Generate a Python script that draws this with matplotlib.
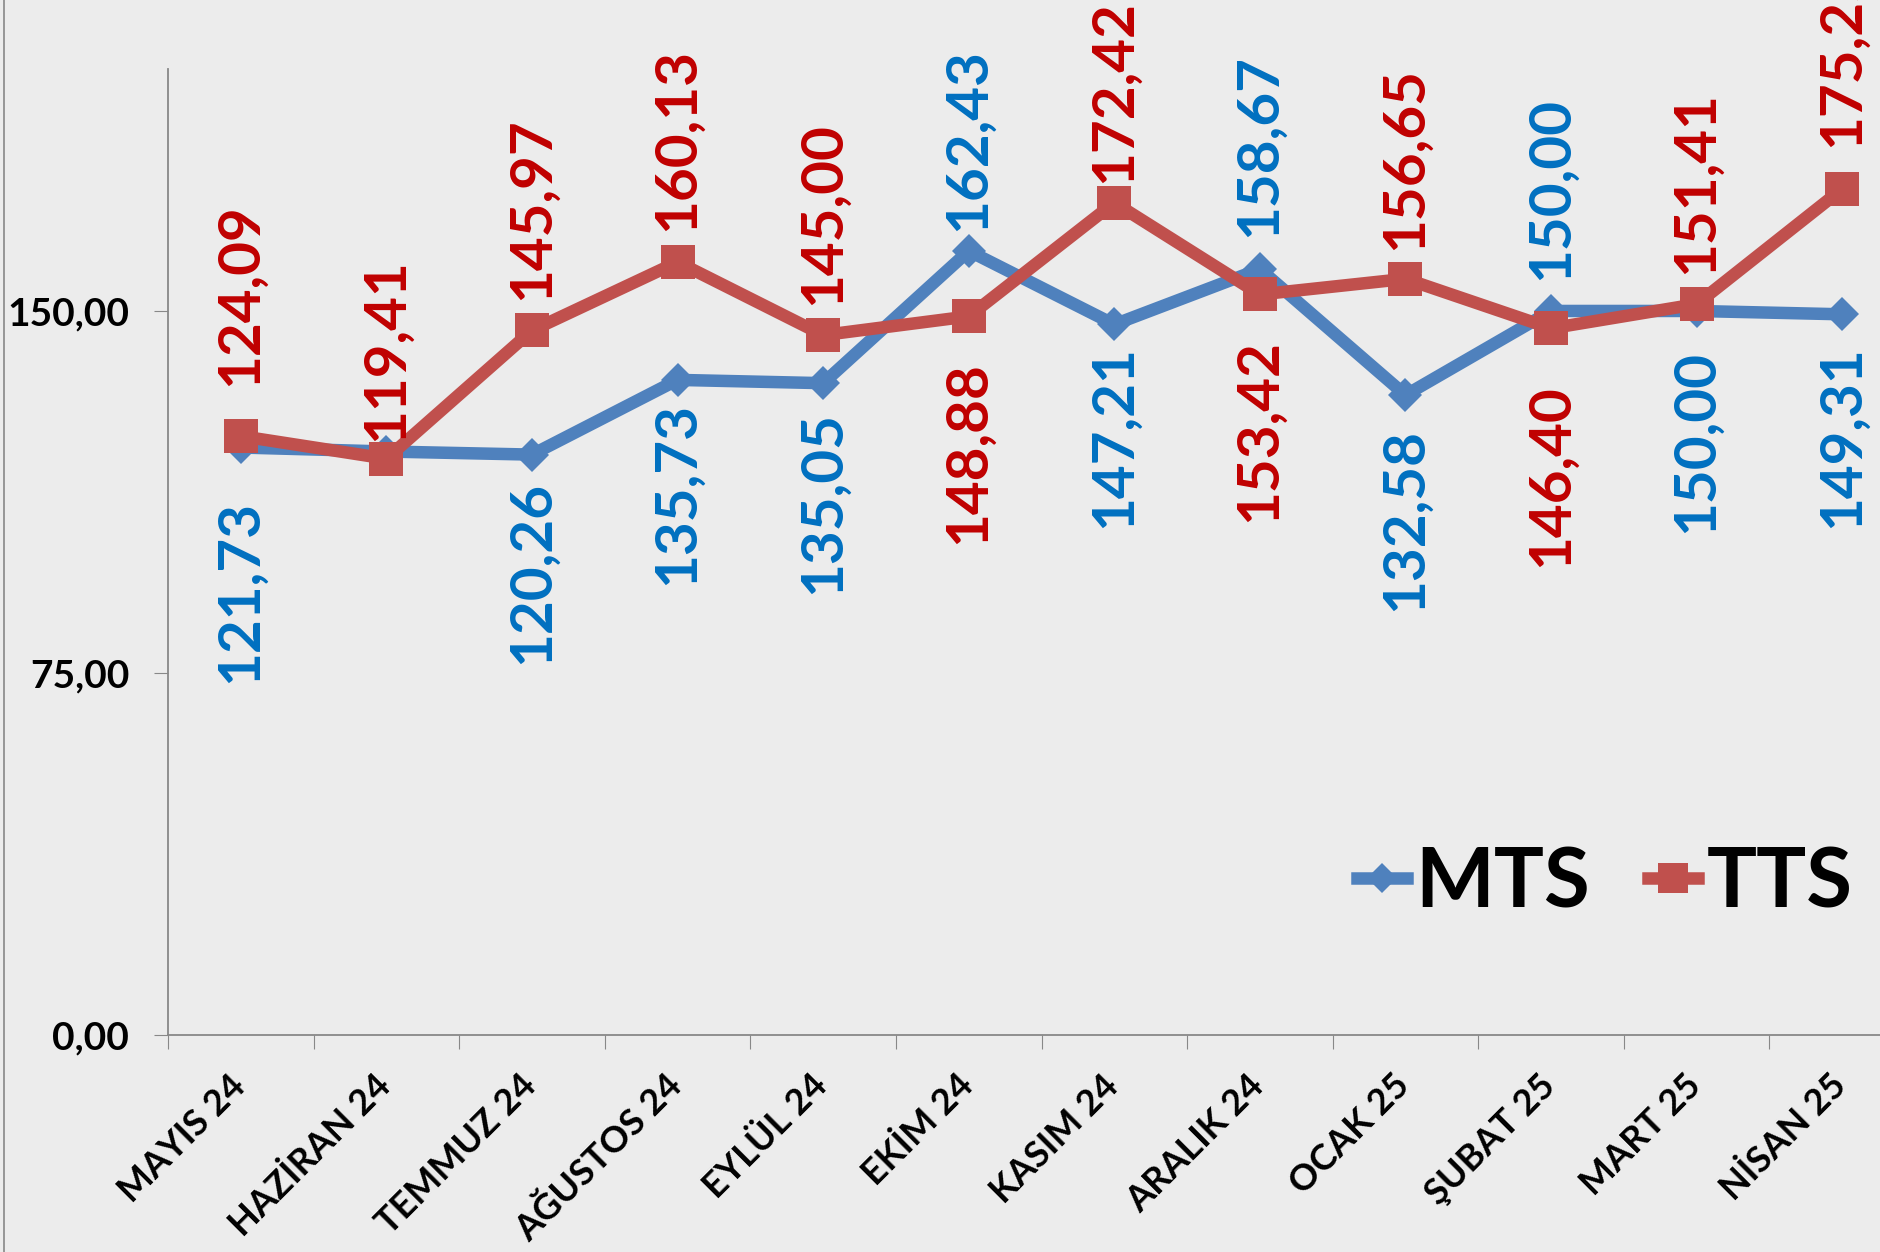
import matplotlib
matplotlib.use("Agg")
import matplotlib.pyplot as plt
import matplotlib.transforms as mtransforms
from matplotlib.lines import Line2D

plt.rcParams['font.family'] = ['Lato', 'DejaVu Sans']
plt.rcParams['font.weight'] = 'bold'

# data
months = ['MAYIS 24', 'HAZİRAN 24', 'TEMMUZ 24', 'AĞUSTOS 24', 'EYLÜL 24', 'EKİM 24',
          'KASIM 24', 'ARALIK 24', 'OCAK 25', 'ŞUBAT 25', 'MART 25', 'NİSAN 25']
mts = [121.73, 120.90, 120.26, 135.73, 135.05, 162.43, 147.21, 158.67, 132.58, 150.00, 150.00, 149.31]
tts = [124.09, 119.41, 145.97, 160.13, 145.00, 148.88, 172.42, 153.42, 156.65, 146.40, 151.41, 175.25]
y_ticks = [0, 75, 150]
y_tick_labels = ['0,00', '75,00', '150,00']

# label placement: signed offset in points (+ above, - below), None = no label
mts_label_off = [-38, None, -19, -16, -20, 14, -15, 23, -24, 22, -28, -22]
tts_label_off = [36, 13, 22, 22, 22, -32, 14, -32, 21, -40, 22, 30]

MTS_LINE = '#4F81BD'
TTS_LINE = '#C0504D'
MTS_TXT = '#0070C0'
TTS_TXT = '#C00000'
BG = '#ECECEC'

fig = plt.figure(figsize=(18.8, 12.52), dpi=100, facecolor=BG)
ax = fig.add_axes([0.0894, 0.173, 0.9292, 0.7715])
ax.set_facecolor(BG)

x = list(range(len(months)))
ax.plot(x, mts, color=MTS_LINE, lw=9, marker='D', ms=17, mew=0, label='MTS', zorder=3,
        solid_joinstyle='miter', clip_on=False)
ax.plot(x, tts, color=TTS_LINE, lw=9, marker='s', ms=24, mew=0, label='TTS', zorder=4,
        solid_joinstyle='miter', clip_on=False)

def add_labels(vals, offs, color):
    for i, (v, off) in enumerate(zip(vals, offs)):
        if off is None:
            continue
        txt = f'{v:.2f}'.replace('.', ',')
        ax.annotate(txt, (i, v), xytext=(0, off), textcoords='offset points',
                    rotation=90, ha='center', va='bottom' if off > 0 else 'top',
                    fontsize=42, fontweight='bold', color=color, zorder=6,
                    annotation_clip=False)

add_labels(mts, mts_label_off, MTS_TXT)
add_labels(tts, tts_label_off, TTS_TXT)

ax.set_xlim(-0.5, 11.5)
ax.set_ylim(0, 200)
ax.set_yticks(y_ticks)
ax.set_yticklabels(y_tick_labels, fontsize=28, fontweight='bold')
ax.set_xticks([i - 0.5 for i in range(len(months) + 1)], minor=False)
ax.set_xticklabels([''] * (len(months) + 1))
ax.set_xticks(x, minor=True)
ax.set_xticklabels(months, minor=True, rotation=45, ha='right', rotation_mode='anchor',
                   fontsize=26, fontweight='bold')
ax.tick_params(axis='x', which='major', length=10, color='#888888', direction='out')
ax.tick_params(axis='x', which='minor', length=0, pad=24)
ax.tick_params(axis='y', length=10, color='#888888', pad=18)
offset = mtransforms.ScaledTranslation(-9 / 72, 0, fig.dpi_scale_trans)
for lab in ax.get_xticklabels(minor=True):
    lab.set_transform(lab.get_transform() + offset)

for s in ['top', 'right']:
    ax.spines[s].set_visible(False)
for s in ['left', 'bottom']:
    ax.spines[s].set_color('#888888')
    ax.spines[s].set_linewidth(1.3)

leg = fig.legend(loc='center right', bbox_to_anchor=(0.9855, 0.294), ncol=2, frameon=False,
                 prop={'size': 60, 'weight': 'bold'}, handlelength=0.6, handletextpad=0.1,
                 columnspacing=0.7, borderpad=0, borderaxespad=0, markerscale=0.9)

fig.add_artist(Line2D([0.002, 0.002], [0, 1], color='#888888', lw=1.2))

fig.savefig('out.png', dpi=100, facecolor=BG)
